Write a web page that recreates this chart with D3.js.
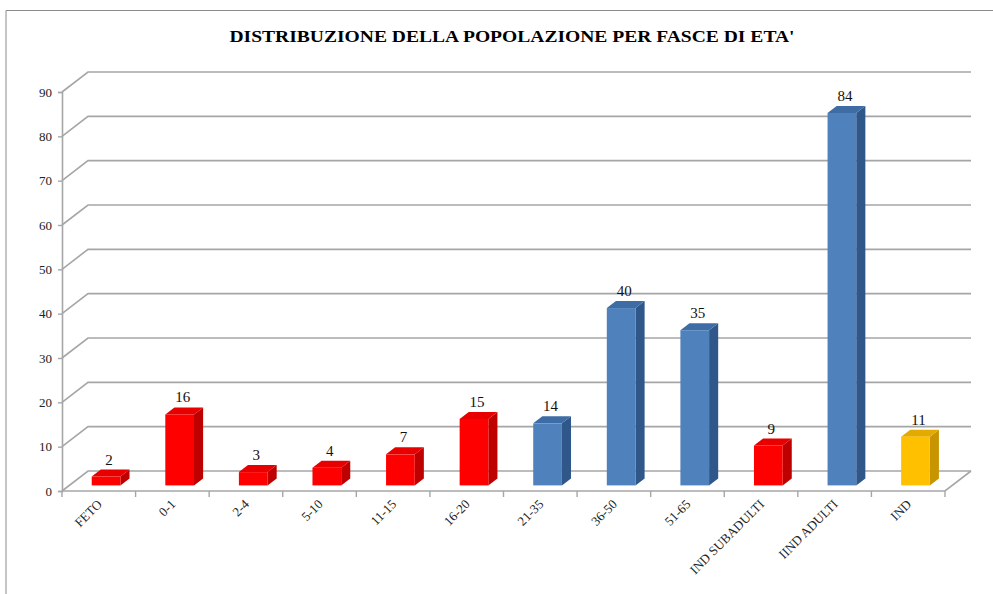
<!DOCTYPE html>
<html><head><meta charset="utf-8">
<script src="https://cdn.jsdelivr.net/npm/d3@7/dist/d3.min.js"></script>
<style>body{margin:0;background:#fff}svg{display:block}</style>
</head><body>
<svg id="c" width="993" height="594"></svg>
<script>
const categories = ["FETO","0-1","2-4","5-10","11-15","16-20","21-35","36-50","51-65","IND SUBADULTI","IIND ADULTI","IND"];
const values = [2,16,3,4,7,15,14,40,35,9,84,11];
const groups = ["red","red","red","red","red","red","blue","blue","blue","red","blue","yellow"];
const yTicks = [0,10,20,30,40,50,60,70,80,90];
const title = "DISTRIBUZIONE DELLA POPOLAZIONE PER FASCE DI ETA'";

const palette = {
  red:    {front:"#FF0000", side:"#BE0000", top:"#E80000"},
  blue:   {front:"#4F81BD", side:"#2F5789", top:"#3E6DA6"},
  yellow: {front:"#FFC000", side:"#C89500", top:"#E3AA00"}
};

const svg = d3.select("#c");
const serif = "'Liberation Serif','Times New Roman',serif";
const grid = "#A6A6A6";
const DX = 26, DY = -20;

// border
svg.append("path").attr("d","M6,600 V10.5 H1000").attr("fill","none").attr("stroke","#8c8c8c").attr("stroke-width",1);

const x = d3.scaleBand().domain(categories).range([62,945]);
const y = d3.scaleLinear().domain([0,90]).range([491,92]);

// title
svg.append("text").attr("x",512).attr("y",42).attr("text-anchor","middle")
  .attr("font-family",serif).attr("font-weight","bold").attr("font-size",16)
  .attr("textLength",565).attr("lengthAdjust","spacingAndGlyphs")
  .text(title);

// walls / gridlines
const g = svg.append("g");
yTicks.forEach(t=>{
  const yy = y(t);
  g.append("path").attr("d",`M${x.range()[0]},${yy} L${x.range()[0]+DX},${yy+DY} H${x.range()[1]+DX}`)
   .attr("fill","none").attr("stroke",grid).attr("stroke-width",1.6);
});
// floor
g.append("path").attr("d",`M${x.range()[0]},${y(0)} H${x.range()[1]} L${x.range()[1]+DX},${y(0)+DY}`)
  .attr("fill","none").attr("stroke",grid).attr("stroke-width",1.6);

// y axis
const ya = svg.append("g").attr("transform",`translate(${x.range()[0]},0)`)
  .call(d3.axisLeft(y).tickValues(yTicks).tickSize(4).tickPadding(6));
ya.select(".domain").attr("stroke",grid).attr("stroke-width",1.6);
ya.selectAll(".tick line").attr("stroke",grid).attr("stroke-width",1.4);
ya.selectAll(".tick text").attr("font-family",serif).attr("font-size",13).attr("fill","#222");

// category ticks at band boundaries
const bounds = categories.map(c=>x(c)).concat([x.range()[1]]);
svg.append("g").selectAll("line").data(bounds).join("line")
  .attr("x1",d=>d).attr("x2",d=>d).attr("y1",y(0)).attr("y2",y(0)+6)
  .attr("stroke",grid).attr("stroke-width",1.4);

// category labels
svg.append("g").selectAll("text").data(categories).join("text")
  .attr("transform",c=>`translate(${x(c)+x.bandwidth()/2+4},${y(0)+14}) rotate(-45)`)
  .attr("text-anchor","end").attr("font-family",serif).attr("font-size",13).attr("fill","#222")
  .text(c=>c);

// bars
const bw = x.bandwidth()*0.39;
const f1 = 0.28, f2 = 0.35;
const ox = DX*f1, oy = DY*f1, dx = DX*f2, dy = DY*f2;
const bars = svg.append("g").selectAll("g").data(categories.map((c,i)=>({c,v:values[i],g:groups[i]}))).join("g");
bars.each(function(d){
  const sel = d3.select(this);
  const x0 = x(d.c)+x.bandwidth()/2-bw/2+ox, x1 = x0+bw;
  const yb = y(0)+oy, yt = y(d.v)+oy;
  const col = palette[d.g];
  sel.append("path").attr("d",`M${x1},${yb} L${x1+dx},${yb+dy} L${x1+dx},${yt+dy} L${x1},${yt}Z`).attr("fill",col.side);
  sel.append("path").attr("d",`M${x0},${yt} L${x0+dx},${yt+dy} L${x1+dx},${yt+dy} L${x1},${yt}Z`).attr("fill",col.top);
  sel.append("rect").attr("x",x0).attr("y",yt).attr("width",bw).attr("height",yb-yt).attr("fill",col.front);
  sel.append("text").attr("x",(x0+x1)/2+3).attr("y",yt-12).attr("text-anchor","middle")
    .attr("font-family",serif).attr("font-size",15).attr("fill","#111").text(d.v);
});
</script>
</body></html>
